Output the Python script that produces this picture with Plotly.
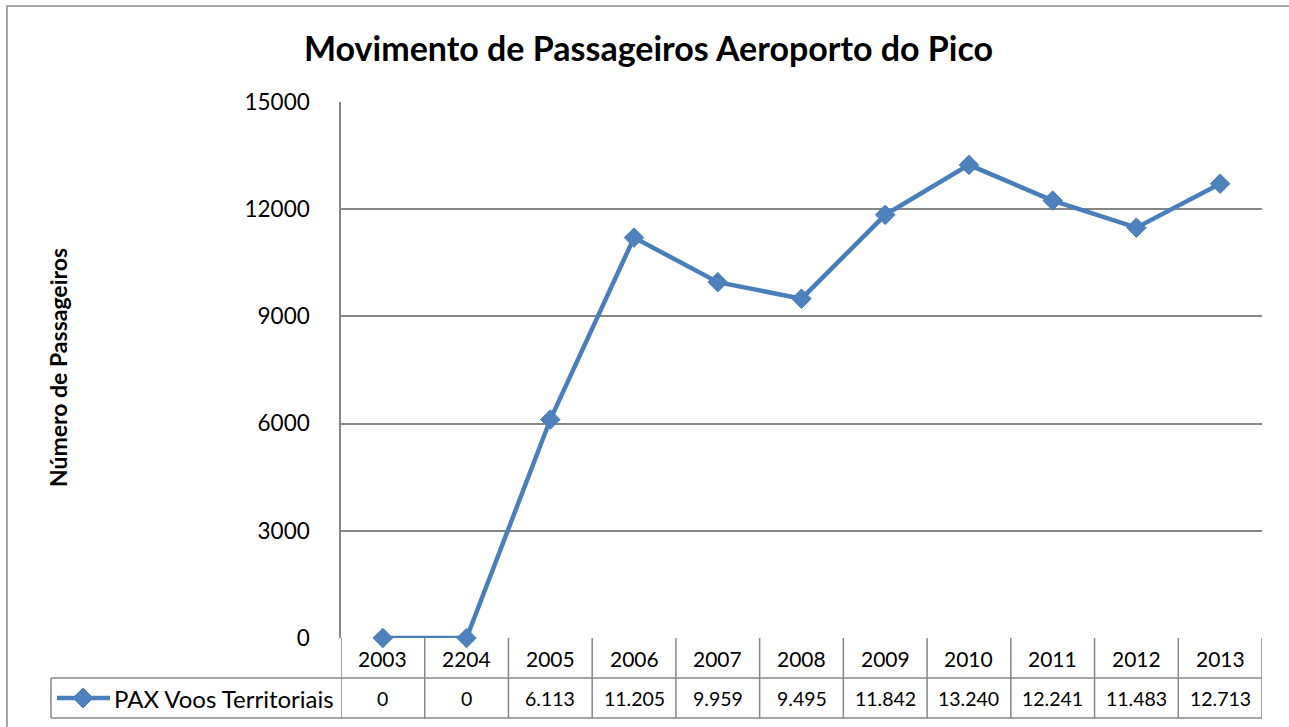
import plotly.graph_objects as go

years = ["2003", "2204", "2005", "2006", "2007", "2008", "2009", "2010", "2011", "2012", "2013"]
pax = [0, 0, 6113, 11205, 9959, 9495, 11842, 13240, 12241, 11483, 12713]
series_name = "PAX Voos Territoriais"
y_ticks = [0, 3000, 6000, 9000, 12000, 15000]
title = "Movimento de Passageiros Aeroporto do Pico"
y_title = "Número de Passageiros"

W, H = 1289, 727
FONT = "Lato"
GRID = "#868686"
LINE = "#4A7EBB"
MARK = "#4F81BD"

def px_x(p):
    return p / W

def px_y(p):
    return 1 - p / H

x0d, x1d = px_x(341), px_x(1262)
y_bot, y_top = px_y(638), px_y(102)
row1_bot = px_y(678)
row2_bot = px_y(718)

fig = go.Figure()
fig.add_trace(go.Scatter(
    x=years, y=pax, mode="lines+markers", name=series_name,
    line=dict(color=LINE, width=4.5),
    marker=dict(symbol="diamond", size=15, color=MARK, line=dict(color=LINE, width=1)),
    showlegend=False, cliponaxis=False,
))

shapes = []
# outer frame
shapes.append(dict(type="rect", xref="paper", yref="paper", x0=px_x(7), y0=px_y(6), x1=1.02, y1=-0.02,
                   line=dict(color="#8C8C8C", width=1.5), fillcolor="rgba(0,0,0,0)", layer="below"))
# table vertical lines at category boundaries
n = len(years)
for i in range(n + 1):
    shapes.append(dict(type="line", xref="x", yref="paper", x0=i - 0.5, x1=i - 0.5,
                       y0=y_bot, y1=row2_bot, line=dict(color=GRID, width=1.5), layer="below"))
# legend cell left line
shapes.append(dict(type="line", xref="paper", yref="paper", x0=px_x(51), x1=px_x(51),
                   y0=row1_bot, y1=row2_bot, line=dict(color=GRID, width=1.5), layer="below"))
# horizontal lines
for yy in (row1_bot, row2_bot):
    shapes.append(dict(type="line", xref="paper", yref="paper", x0=px_x(51), x1=x1d,
                       y0=yy, y1=yy, line=dict(color=GRID, width=1.5), layer="below"))

# legend key (line + diamond) inside the legend cell
ly = (row1_bot + row2_bot) / 2
shapes.append(dict(type="line", xref="paper", yref="paper", x0=px_x(57), x1=px_x(110), y0=ly, y1=ly,
                   line=dict(color=LINE, width=4.5)))
cx, cy, r = 83, 698, 10
shapes.append(dict(type="path", xref="paper", yref="paper",
                   path=f"M {px_x(cx - r)} {px_y(cy)} L {px_x(cx)} {px_y(cy - r)} L {px_x(cx + r)} {px_y(cy)} "
                        f"L {px_x(cx)} {px_y(cy + r)} Z",
                   fillcolor=MARK, line=dict(color=LINE, width=1)))

def ann(**kw):
    base = dict(showarrow=False, xanchor="center", yanchor="middle")
    base.update(kw)
    return base

annotations = []
for i, (yr, v) in enumerate(zip(years, pax)):
    annotations.append(ann(x=i, y=(y_bot + row1_bot) / 2, xref="x", yref="paper", text=yr,
                           font=dict(family=FONT, size=21, color="black")))
    annotations.append(ann(x=i, y=(row1_bot + row2_bot) / 2, xref="x", yref="paper",
                           text=f"{v:,}".replace(",", "."),
                           font=dict(family=FONT, size=19.5, color="black")))
annotations.append(ann(x=px_x(112), y=ly, xref="paper", yref="paper", text=series_name,
                       xanchor="left", font=dict(family=FONT, size=24, color="black")))
annotations.append(ann(x=px_x(649), y=px_y(48), xref="paper", yref="paper", text=f"<b>{title}</b>",
                       font=dict(family=FONT, size=34, color="black")))
annotations.append(ann(x=px_x(58), y=px_y(368), xref="paper", yref="paper", text=f"<b>{y_title}</b>",
                       textangle=-90, font=dict(family=FONT, size=23, color="black")))

fig.update_layout(
    width=W, height=H,
    margin=dict(l=0, r=0, t=0, b=0, pad=0, autoexpand=False),
    paper_bgcolor="white", plot_bgcolor="white",
    font=dict(family=FONT, color="black"),
    shapes=shapes, annotations=annotations,
    showlegend=False,
    xaxis=dict(domain=[x0d, x1d], type="category", range=[-0.5, n - 0.5], showticklabels=False,
               showgrid=False, zeroline=False, showline=False, ticks="", automargin=False),
    yaxis=dict(domain=[y_bot, y_top], range=[0, 15000], tickvals=y_ticks, tickformat="d",
               showgrid=True, gridcolor=GRID, gridwidth=1.5, zeroline=False,
               showline=True, linecolor=GRID, linewidth=1.5, ticks="", automargin=False,
               tickfont=dict(family=FONT, size=22.5, color="black"), ticklabelstandoff=25),
)

fig.write_html("out.html", config={"displayModeBar": False},
               post_script="document.body.style.margin='0';document.body.style.overflow='hidden';")
